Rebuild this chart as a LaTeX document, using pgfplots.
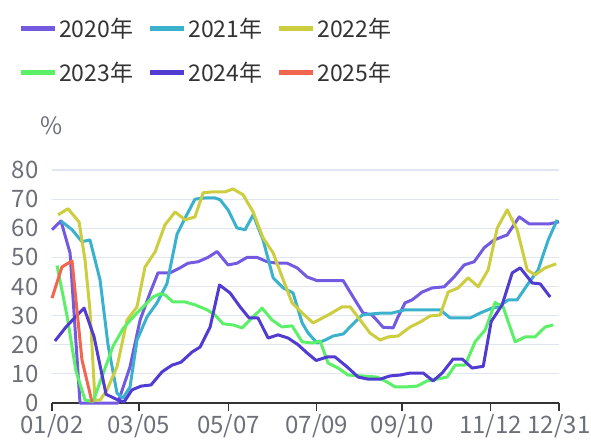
\documentclass[border=0pt]{standalone}
\usepackage{fontspec}
\setmainfont{Noto Sans CJK SC}
\usepackage{pgfplots}
\pgfplotsset{compat=1.18}
\definecolor{c20}{RGB}{115,90,224}
\definecolor{c21}{RGB}{59,178,205}
\definecolor{c22}{RGB}{205,205,64}
\definecolor{c23}{RGB}{92,240,104}
\definecolor{c24}{RGB}{80,60,210}
\definecolor{c25}{RGB}{242,102,80}
\definecolor{labgray}{RGB}{110,112,121}
\definecolor{legtext}{RGB}{51,51,51}
\definecolor{gridc}{RGB}{224,230,241}
\definecolor{axc}{RGB}{51,51,51}
\begin{document}
\begin{tikzpicture}
\begin{axis}[
 at={(52pt,39pt)}, anchor=south west,
 scale only axis, width=507pt, height=233pt,
 xmin=0, xmax=362, ymin=0, ymax=80,
 xtick={0,62,126,189,250,313,362},
 xticklabels={01/02,03/05,05/07,07/09,09/10,11/12,12/31},
 ytick={0,10,...,80},
 ymajorgrids, grid style={gridc, line width=1.2pt},
 axis x line*=bottom, axis y line*=left,
 x axis line style={-, axc, line width=1.5pt},
 y axis line style={draw=none},
 tick align=outside, major tick length=8pt,
 xtick style={axc, line width=1.5pt},
 ytick style={draw=none},
 tick label style={font=\fontsize{24}{28}\selectfont, text=labgray},
 yticklabel style={xshift=-2pt},
 /pgf/number format/assume math mode=true,
 clip=false,
 legend columns=3,
 legend cell align=left,
 legend style={at={(-0.073,1.67)}, anchor=north west, draw=none, fill=none,
   font=\fontsize{23}{28}\selectfont, text=legtext,
   /tikz/every even column/.append style={column sep=12pt}, row sep=19pt},
 legend image code/.code={\draw[#1, line width=5pt] (0pt,0pt) -- (34pt,0pt);},
 every axis plot/.append style={line width=3pt, line join=round, mark=none},
]
\addplot[c20] coordinates {(0,59.5)(6.4,62.5)(12.9,51.5)(20,0)(47,0)(55.7,12.4)(62.9,28.5)(70,37.8)(75.7,44.7)(84.3,44.7)(91.4,46.4)(97.1,48)(104.3,48.5)(111.4,50)(117.9,52)(125.7,47.4)(132.1,48)(139.3,50)(146.4,50)(153.6,48.5)(160.7,48)(167.9,48)(175,46.4)(182.1,43.3)(189.3,42)(207.9,42)(215,36.4)(222.1,30.9)(228.6,30.2)(236.4,26)(243.6,25.8)(247.1,29.6)(252.1,34.4)(257.1,35.4)(264.3,38.1)(271.4,39.5)(280,39.9)(287.1,43.3)(294.3,47.4)(301.4,48.5)(308.6,53.3)(315.7,56)(325,57.7)(333.6,63.9)(340.7,61.5)(355,61.5)(362,62.2)};
\addlegendentry{2020年}
\addplot[c21] coordinates {(6.4,62.5)(14.3,59.5)(21.4,55.4)(27.1,56)(34.3,42.3)(40,20)(46.4,3.4)(50.7,1.7)(55.7,5.5)(60.7,21.6)(67.9,29.6)(75,34.4)(82.1,41)(89.3,58)(95,63.5)(102.1,70)(109.3,70.4)(116.4,70.4)(120,69.8)(125.7,66.3)(132.1,60.1)(137.9,59.5)(143.6,64.6)(150.7,56)(157.9,43)(165,39.5)(172.1,37.8)(178.6,27.5)(182.9,24)(189.3,20.6)(195,21.6)(200.7,23)(207.9,23.7)(214.3,26.8)(221.4,30.2)(228.6,30.6)(235.7,30.9)(242.9,30.9)(252.1,32)(277.1,32)(284.3,29.2)(298.6,29.2)(305.7,30.9)(314.3,32.6)(318.6,33)(325.7,35.4)(332.1,35.4)(339.3,40.5)(347.1,45.7)(354.3,56)(360.7,62.9)};
\addlegendentry{2021年}
\addplot[c22] coordinates {(4.3,64.6)(11.4,66.7)(19.3,62.2)(23.6,49)(27.1,32)(30.7,1)(34.3,1)(39.3,4.5)(46.4,12.4)(53.6,28.5)(60.7,33)(66.4,46.7)(73.6,51.9)(80.7,61.2)(87.9,65.6)(95,62.9)(102.1,63.9)(107.9,72.2)(115,72.5)(123.6,72.5)(129.3,73.5)(136.4,71.5)(143.6,65.6)(150.7,56.7)(157.9,51.5)(164.3,43.3)(171.4,34.4)(178.6,30.9)(186.4,27.5)(197.1,30.2)(207.1,33)(212.9,33)(220,28.5)(227.1,24)(234.3,21.6)(240,22.7)(247.1,23)(255.7,26.1)(262.9,27.8)(270,29.9)(277.1,30.2)(282.9,38.1)(290,39.5)(297.1,43)(304.3,39.9)(311.4,45.7)(317.9,60.1)(325,66.3)(332.1,59.5)(339.3,45.7)(345,44)(352.1,46.4)(360,47.8)};
\addlegendentry{2022年}
\addplot[c23] coordinates {(3.6,47.2)(10.7,30)(17.1,11)(23.6,1)(29.3,0.5)(36.4,10)(43.6,19.5)(50.7,25.5)(57.9,29.5)(65,33)(72.1,36.4)(77.1,37.5)(80.7,37.1)(86.4,34.7)(95,34.7)(102.1,33.7)(110.7,32)(116.4,30.2)(122.1,27.2)(129.3,26.8)(135.7,25.8)(142.9,29.2)(150,32.6)(157.1,28.5)(164.3,26.1)(171.4,26.5)(178.6,21)(185.7,20.6)(191.4,21.3)(197.1,13.7)(204.3,12)(211.4,9.6)(221.4,9.3)(232.1,8.9)(239.3,7.2)(245,5.5)(252.1,5.5)(260.7,5.8)(267.9,7.6)(275,8.2)(282.1,8.9)(287.9,13)(295,13)(302.1,21)(309.3,25.1)(316.4,34.5)(322.1,33)(330.7,21)(337.9,22.7)(345,22.7)(352.1,26.1)(357.9,26.8)};
\addlegendentry{2023年}
\addplot[c24] coordinates {(2.1,21.3)(10,26.1)(16.4,29.4)(22.9,32.6)(30,22.8)(38.6,3)(45,1.5)(51.4,0.3)(57.1,4.5)(63.6,5.8)(70.7,6.2)(78.6,10.7)(85.7,13)(92.1,14)(100,17.5)(105.7,19.2)(112.9,26.1)(119.6,40.5)(127.1,37.8)(134.3,33)(140.7,29.2)(147.1,29.2)(154.3,22.3)(161.4,23.4)(168.6,22.3)(175.7,20)(182.1,17.2)(188.6,14.6)(196.4,15.8)(202.1,15.8)(210.7,12.4)(218.6,8.9)(225.7,8.2)(234.3,8.2)(241.4,9.3)(248.6,9.6)(255.7,10.3)(265,10.3)(272.1,7.6)(278.6,10.3)(286.4,15.1)(292.9,15.1)(300,12)(307.9,12.6)(313.6,28)(321.4,33.7)(328.6,44.7)(334.3,46.4)(342.9,41.2)(348.6,40.9)(355.7,36.4)};
\addlegendentry{2024年}
\addplot[c25] coordinates {(0,36)(7.1,46.7)(14.3,48.8)(21.4,14.8)(28.6,0.3)};
\addlegendentry{2025年}
\node[font=\fontsize{24}{28}\selectfont, text=labgray] at (axis description cs:0,1.189) {\%};
\end{axis}
\pgfresetboundingbox
\path (0,0) rectangle (591pt,442pt);
\end{tikzpicture}
\end{document}
